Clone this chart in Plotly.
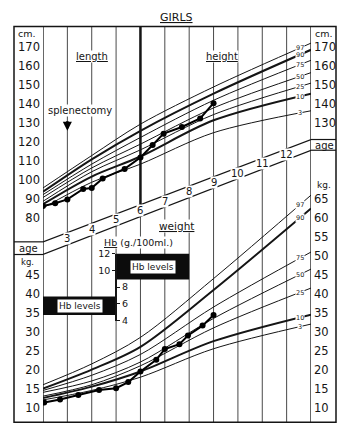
import numpy as np
import plotly.graph_objects as go

W, H = 350, 432

# ---------------- data ----------------
pct_names = ["97", "90", "75", "50", "25", "10", "3"]
pct_ages = [2, 4, 6, 9, 13]

height_97 = [96, 113, 129.5, 149, 172]
height_90 = [94, 111, 126, 145.5, 168.5]
height_75 = [92.5, 108.5, 122.5, 142, 163]
height_50 = [91, 106.5, 119, 138, 156.5]
height_25 = [89, 104.5, 116, 134.5, 151]
height_10 = [87.5, 102, 112.5, 131.5, 145.5]
height_3 = [85.5, 99, 108.5, 125, 136.5]

weight_97 = [16, 21.5, 28.5, 44, 66]
weight_90 = [15, 20, 26, 41, 62.5]
weight_75 = [14.5, 18.5, 24, 36.5, 51]
weight_50 = [14, 17, 22, 33.5, 46.5]
weight_25 = [13, 16, 21, 31, 41.5]
weight_10 = [12.5, 15.5, 19.5, 27.5, 34.5]
weight_3 = [12, 14.5, 18, 25.5, 32]

patient_height_age = [2.0, 2.5, 3.0, 3.65, 4.0, 4.45, 5.35, 6.0, 6.5, 6.95, 7.7, 8.45, 9.0]
patient_height_cm = [86.5, 88, 90, 95.5, 96, 101, 106, 112, 118.5, 124.5, 128, 132.5, 140.5]

patient_weight_age = [2.05, 2.7, 3.45, 4.3, 5.0, 5.5, 6.0, 6.65, 7.0, 7.6, 7.95, 8.55, 9.0]
patient_weight_kg = [11.3, 12.1, 13.3, 14.6, 15.1, 16.7, 19.5, 22.6, 25.4, 26.7, 29.0, 31.6, 34.4]

hb_age_start = [2, 5]
hb_age_end = [5, 8]
hb_low = [4.7, 8.9]
hb_high = [6.9, 12]

splenectomy_age = 3
grid_ages = [3, 4, 5, 6, 7, 8, 9, 10, 11, 12]
band_ages = [3, 4, 5, 6, 7, 8, 9, 10, 11, 12]
height_ticks_left = [80, 90, 100, 110, 120, 130, 140, 150, 160, 170]
height_ticks_right = [130, 140, 150, 160, 170]
weight_ticks_left = [10, 15, 20, 25, 30, 35, 40, 45]
weight_ticks_right = [10, 15, 20, 25, 30, 35, 40, 45, 50, 55, 60, 65]
hb_ticks_left = [10, 12]
hb_ticks_right = [4, 6, 8]

heights = [height_97, height_90, height_75, height_50, height_25, height_10, height_3]
weights = [weight_97, weight_90, weight_75, weight_50, weight_25, weight_10, weight_3]
thick_pcts = {"90", "10"}

# ---------------- layout geometry ----------------
INK = "#151515"
GRID = "#4a4a4a"
FONT = "DejaVu Sans"
FT, FB = 21, 427          # frame top / bottom (px)
FL, FR = 14, 336          # frame left / right (px)
X0, X1 = 43, 311          # age 2 / age 13 (px)
AGE0, AGE1 = 2, 13


def px(x):
    return x / W


def py(y):
    return (H - y) / H


def axis_range(v1, p1, v2, p2):
    k = (p1 - p2) / (v2 - v1)
    return [v1 - (FB - p1) / k, v1 + (p1 - FT) / k]


h_range = axis_range(80, 218, 170, 42)
w_range = axis_range(10, 412, 65, 198)

# age band (slanted)
BU0, BU1 = 242, 137
BL0, BL1 = 255, 148


def band_mid(a):
    t = (a - AGE0) / (AGE1 - AGE0)
    return ((BU0 + (BU1 - BU0) * t) + (BL0 + (BL1 - BL0) * t)) / 2


def band_up(a):
    t = (a - AGE0) / (AGE1 - AGE0)
    return BU0 + (BU1 - BU0) * t


fig = go.Figure()

# percentile curves
for name, hv, wv in zip(pct_names, heights, weights):
    lw = 2.0 if name in thick_pcts else 1.0
    fig.add_trace(go.Scatter(x=pct_ages, y=hv, mode="lines", yaxis="y",
                             line=dict(color=INK, width=lw, shape="spline", smoothing=0.9),
                             hoverinfo="skip", showlegend=False))
    fig.add_trace(go.Scatter(x=pct_ages, y=wv, mode="lines", yaxis="y2",
                             line=dict(color=INK, width=lw, shape="spline", smoothing=0.9),
                             hoverinfo="skip", showlegend=False))

# patient
fig.add_trace(go.Scatter(x=patient_height_age, y=patient_height_cm, mode="lines+markers", yaxis="y",
                         line=dict(color="#000", width=2), marker=dict(size=6, color="#000"),
                         showlegend=False))
fig.add_trace(go.Scatter(x=patient_weight_age, y=patient_weight_kg, mode="lines+markers", yaxis="y2",
                         line=dict(color="#000", width=2), marker=dict(size=6, color="#000"),
                         showlegend=False))

# Hb level bars
fig.add_trace(go.Bar(x=[(a + b) / 2 for a, b in zip(hb_age_start, hb_age_end)],
                     y=[h - l for l, h in zip(hb_low, hb_high)], base=hb_low,
                     width=[b - a for a, b in zip(hb_age_start, hb_age_end)],
                     marker=dict(color="#0c0c0c", line=dict(width=0)),
                     xaxis="x", yaxis="y3", showlegend=False, hoverinfo="skip"))

# dummy traces so overlay axes render
for ax in ["y4", "y5", "y6"]:
    fig.add_trace(go.Scatter(x=[None], y=[None], yaxis=ax, showlegend=False, hoverinfo="skip"))

tickfont = dict(family=FONT, size=11.5, color=INK)
common_y = dict(showgrid=False, zeroline=False, ticks="", showline=False, tickfont=tickfont,
                fixedrange=True)

fig.update_layout(
    width=W, height=H, margin=dict(l=0, r=0, t=0, b=0),
    paper_bgcolor="white", plot_bgcolor="rgba(0,0,0,0)",
    showlegend=False, font=dict(family=FONT, color=INK),
    xaxis=dict(domain=[px(X0), px(X1)], range=[AGE0, AGE1], showgrid=False,
               showticklabels=False, zeroline=False, ticks="", fixedrange=True),
    yaxis=dict(domain=[py(FB), py(FT)], range=h_range, tickvals=height_ticks_left,
               side="left", anchor="x", ticklabelstandoff=2, **common_y),
    yaxis2=dict(overlaying="y", range=w_range, tickvals=weight_ticks_left,
                side="left", anchor="x", ticklabelstandoff=2, **common_y),
    yaxis4=dict(overlaying="y", range=h_range, tickvals=height_ticks_right,
                side="right", anchor="x", ticklabelstandoff=2, **common_y),
    yaxis5=dict(overlaying="y", range=w_range, tickvals=weight_ticks_right,
                side="right", anchor="x", ticklabelstandoff=2, **common_y),
    yaxis3=dict(domain=[py(323), py(254)], range=[4, 12], anchor="free", position=px(116),
                side="left", showline=True, linecolor=INK, linewidth=1.5, ticks="outside",
                ticklen=3, tickcolor=INK, tickvals=hb_ticks_left, showgrid=False, zeroline=False,
                tickfont=dict(family=FONT, size=9.5, color=INK), fixedrange=True),
    yaxis6=dict(overlaying="y3", range=[4, 12], anchor="free", position=px(116),
                side="right", showline=False, ticks="outside", ticklen=3, tickcolor=INK,
                tickvals=hb_ticks_right, showgrid=False, zeroline=False,
                tickfont=dict(family=FONT, size=9.5, color=INK), fixedrange=True),
)

shapes = []
# vertical age grid lines
for a in grid_ages:
    shapes.append(dict(type="line", xref="x", yref="paper", x0=a, x1=a, y0=py(FB), y1=py(FT),
                       line=dict(color=GRID, width=1), layer="below"))
# outer frame
shapes.append(dict(type="rect", xref="paper", yref="paper", x0=px(FL), x1=px(FR),
                   y0=py(FB), y1=py(FT), line=dict(color=INK, width=1.5), layer="below"))
# column borders at age 2 and 13
for a in (AGE0, AGE1):
    shapes.append(dict(type="line", xref="x", yref="paper", x0=a, x1=a, y0=py(FB), y1=py(FT),
                       line=dict(color=INK, width=1.3), layer="below"))
# heavy age-6 line down to the band
shapes.append(dict(type="line", xref="x", yref="paper", x0=6, x1=6, y0=py(band_up(6)), y1=py(FT),
                   line=dict(color=INK, width=2.5), layer="below"))
# slanted age band
shapes.append(dict(type="line", xref="x", yref="paper", x0=AGE0, x1=AGE1, y0=py(BU0), y1=py(BU1),
                   line=dict(color=INK, width=1.2), layer="below"))
shapes.append(dict(type="line", xref="x", yref="paper", x0=AGE0, x1=AGE1, y0=py(BL0), y1=py(BL1),
                   line=dict(color=INK, width=1.2), layer="below"))
# age boxes in the side columns
for y in (BU0, BL0):
    shapes.append(dict(type="line", xref="paper", yref="paper", x0=px(FL), x1=px(X0), y0=py(y), y1=py(y),
                       line=dict(color=INK, width=1.2), layer="below"))
for y in (BU1, BL1):
    shapes.append(dict(type="line", xref="paper", yref="paper", x0=px(X1), x1=px(FR), y0=py(y), y1=py(y),
                       line=dict(color=INK, width=1.2), layer="below"))
fig.update_layout(shapes=shapes)

ann = []


def text(x, y, s, size=10, bg=None, xref="paper", yref="paper", **kw):
    d = dict(x=x, y=y, xref=xref, yref=yref, text=s, showarrow=False,
             xanchor="center", yanchor="middle",
             font=dict(family=FONT, size=size, color=INK), borderpad=0)
    if bg:
        d["bgcolor"] = bg
    d.update(kw)
    ann.append(d)


text(px(176), py(12), "<u>GIRLS</u>", size=11)
text(px(92), py(52), "<u>length</u>", size=10, bg="white")
text(px(222), py(52), "<u>height</u>", size=10, bg="white")
text(px(177), py(226), "<u>weight</u>", size=10.5, bg="white")
text(px(80), py(107), "splenectomy", size=10, bg="white")
text(px(138), py(243), "<u>Hb</u> (g./100ml.)", size=9.5, bg="white")
# side column captions
text(px(27), py(28), "cm.", size=9.5)
text(px(324), py(28), "cm.", size=9.5)
text(px(28), py(249), "age", size=10)
text(px(324), py(143), "age", size=10)
text(px(27), py(263), "kg.", size=8.5)
text(px(324), py(184), "kg.", size=9)

# splenectomy arrow
ann.append(dict(x=splenectomy_age, y=py(128), xref="x", yref="paper", text="", showarrow=True,
                ax=0, ay=-11, arrowhead=2, arrowsize=0.7, arrowwidth=2.6, arrowcolor="#000"))

# band age labels
for a in band_ages:
    text(a, py(band_mid(a)), str(a), size=10, bg="white", xref="x")

# Hb level labels
for a, b, l, h in zip(hb_age_start, hb_age_end, hb_low, hb_high):
    text((a + b) / 2, (l + h) / 2, "Hb levels", size=9, bg="white", xref="x", yref="y3",
         borderpad=1)

# percentile labels
lab_age = 12.55
for name, hv, wv in zip(pct_names, heights, weights):
    text(lab_age, float(np.interp(lab_age, pct_ages, hv)), name, size=6.5, bg="white",
         xref="x", yref="y")
    text(lab_age, float(np.interp(lab_age, pct_ages, wv)), name, size=6.5, bg="white",
         xref="x", yref="y2")

fig.update_layout(annotations=ann)

fig.write_html("out.html")
